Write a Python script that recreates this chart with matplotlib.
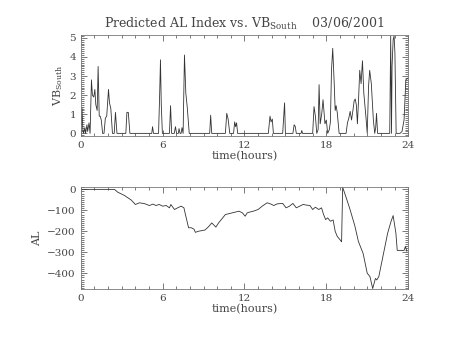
import matplotlib
matplotlib.use('Agg')
import matplotlib.pyplot as plt
from matplotlib.ticker import MultipleLocator

plt.rcParams['font.family'] = ['DejaVu Serif']

# southward IMF component (hours, value)
vb_t = [0.0, 0.08, 0.15, 0.2, 0.3, 0.35, 0.45, 0.5, 0.6, 0.68, 0.78, 0.85, 0.95, 1.03, 1.1,
        1.2, 1.27, 1.35, 1.42, 1.5, 1.6, 1.7, 1.8, 1.9, 2.03, 2.1, 2.2, 2.32, 2.45, 2.54,
        2.65, 3.3, 3.38, 3.48, 3.6, 5.2, 5.26, 5.33, 5.7, 5.78, 5.84, 5.9, 5.98, 6.5, 6.58,
        6.66, 6.85, 6.94, 7.02, 7.15, 7.2, 7.28, 7.35, 7.42, 7.5, 7.6, 7.7, 7.8, 7.95, 9.45,
        9.52, 9.6, 10.6, 10.7, 10.8, 10.92, 11.2, 11.28, 11.35, 11.42, 11.5, 13.75, 13.87,
        13.95, 14.04, 14.12, 14.8, 14.88, 14.94, 15.0, 15.55, 15.64, 15.72, 15.8, 16.15,
        16.2, 16.26, 17.0, 17.1, 17.2, 17.3, 17.4, 17.47, 17.55, 17.66, 17.76, 17.84, 17.9,
        18.0, 18.1, 18.22, 18.3, 18.38, 18.47, 18.58, 18.65, 18.72, 18.8, 18.94, 19.45,
        19.55, 19.65, 19.75, 19.85, 19.95, 20.04, 20.12, 20.2, 20.28, 20.36, 20.45, 20.55,
        20.65, 20.75, 20.9, 21.0, 21.1, 21.18, 21.3, 21.45, 21.55, 21.62, 21.68, 21.76,
        22.65, 22.72, 22.78, 22.82, 22.9, 22.97, 23.03, 23.12, 23.4, 23.55, 23.7, 23.83, 24.0]
vb_v = [0, 1.35, 0.2, 0, 0.3, 0, 0.45, 0.1, 0.55, 0, 2.8, 2.0, 1.9, 2.3, 1.5,
        1.2, 3.5, 0.9, 0.9, 0.7, 0, 0, 0.8, 0.9, 2.3, 1.6, 1.3, 0, 0, 1.1,
        0, 0, 1.1, 1.1, 0, 0, 0.35, 0, 0, 2.0, 3.85, 1.5, 0, 0, 1.45,
        0, 0, 0.35, 0, 0, 0.25, 0, 0, 0.3, 0, 4.1, 2.1, 1.4, 0, 0,
        0.95, 0, 0, 1.05, 0.75, 0, 0, 0.6, 0.35, 0.55, 0, 0, 0.9,
        0.6, 0.75, 0, 0, 0.9, 1.6, 0, 0, 0.45, 0.37, 0, 0,
        0.15, 0, 0, 1.4, 0.9, 0, 0.2, 2.55, 0.5, 1.0, 1.76, 1.0, 0.5,
        0.7, 0, 0.2, 0.6, 3.3, 4.45, 2.6, 1.2, 1.45, 1.1, 0, 0,
        0.55, 0.8, 1.15, 0.7, 1.2, 1.7, 1.8, 1.5, 0.5, 1.7, 3.3, 2.6,
        3.8, 2.1, 0.9, 0, 2.5, 3.3, 2.6, 0.7, 0, 0.3, 1.05, 0,
        0, 5.1, 0, 3.5, 4.9, 5.1, 4.2, 0, 0, 0.1, 0.7, 2.8, 2.9]

# predicted AL index (hours, nT)
al_t = [0.0, 2.47, 2.7, 3.2, 3.7, 4.0, 4.3, 4.67, 5.03, 5.3, 5.5, 5.75, 6.0, 6.26, 6.5,
        6.6, 6.87, 7.1, 7.36, 7.56, 7.7, 7.9, 8.1, 8.3, 8.4, 8.6, 8.85, 9.1, 9.35, 9.6,
        9.8, 9.9, 10.1, 10.35, 10.6, 10.85, 11.1, 11.35, 11.6, 11.85, 12.05, 12.2, 12.4,
        12.65, 13.0, 13.3, 13.66, 13.9, 14.15, 14.4, 14.8, 15.05, 15.3, 15.55, 15.8,
        16.05, 16.3, 16.55, 16.8, 17.0, 17.2, 17.45, 17.65, 17.8, 17.95, 18.1, 18.3,
        18.5, 18.65, 18.8, 19.0, 19.12, 19.2, 19.5, 19.74, 20.1, 20.35, 20.7, 21.0,
        21.2, 21.4, 21.6, 21.7, 21.85, 22.1, 22.5, 22.75, 22.9, 23.1, 23.2, 23.45,
        23.7, 23.8, 23.9]
al_v = [0, 0, -13, -29, -51, -72, -64, -68, -77, -70, -77, -72, -80, -77, -88,
        -72, -96, -88, -80, -88, -128, -183, -183, -190, -205, -200, -197, -194, -179, -160,
        -173, -180, -160, -140, -120, -116, -112, -108, -104, -112, -128, -112, -108,
        -104, -96, -80, -64, -69, -77, -69, -67, -88, -80, -67, -88,
        -80, -72, -75, -77, -96, -85, -96, -88, -120, -144, -136, -152,
        -146, -200, -224, -240, -250, 10, -48, -96, -176, -248, -306, -400,
        -416, -473, -425, -432, -416, -336, -208, -152, -125, -208, -291, -291,
        -291, -272, -295]

fig = plt.figure(figsize=(4.54, 3.41), dpi=100)
ax1 = fig.add_axes([0.178, 0.601, 0.721, 0.296])
ax2 = fig.add_axes([0.178, 0.152, 0.721, 0.300])

grey = '#444444'
for ax in (ax1, ax2):
    ax.set_xlim(0, 24)
    ax.xaxis.set_major_locator(MultipleLocator(6))
    ax.xaxis.set_minor_locator(MultipleLocator(1))
    ax.tick_params(which='both', direction='in', top=True, right=True,
                   labelsize=7.5, colors=grey, width=0.5)
    ax.tick_params(which='major', length=4)
    ax.tick_params(which='minor', length=2)
    for s in ax.spines.values():
        s.set_color('#777777')
        s.set_linewidth(0.6)
    ax.set_xlabel('time(hours)', fontsize=8, color=grey, labelpad=1)

ax1.plot(vb_t, vb_v, color='#333333', lw=0.6)
ax1.set_ylim(-0.14, 5.14)
ax1.yaxis.set_major_locator(MultipleLocator(1))
ax1.yaxis.set_minor_locator(MultipleLocator(0.1))
ax1.set_ylabel('VB$_{\\mathregular{South}}$', fontsize=8, color=grey, labelpad=3)
ax1.set_title('Predicted AL Index vs. VB$_{\\mathregular{South}}$    03/06/2001',
              fontsize=9, color=grey, pad=5)

ax2.plot(al_t, al_v, color='#333333', lw=0.6)
ax2.set_ylim(-476, 12)
ax2.yaxis.set_major_locator(MultipleLocator(100))
ax2.yaxis.set_minor_locator(MultipleLocator(10))
ax2.set_ylabel('AL', fontsize=8, color=grey, labelpad=4)

fig.savefig('out.png', dpi=100)
